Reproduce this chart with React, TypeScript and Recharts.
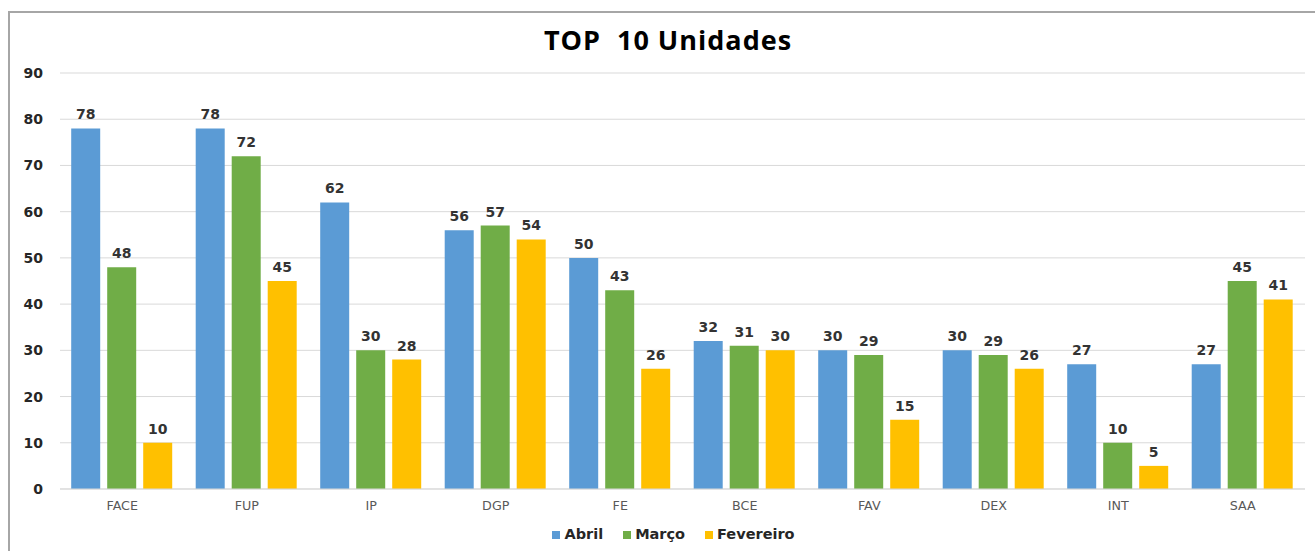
import { Bar, BarChart, CartesianGrid, LabelList, Legend, XAxis, YAxis } from "recharts";

const unidades = ["FACE", "FUP", "IP", "DGP", "FE", "BCE", "FAV", "DEX", "INT", "SAA"];
const abril = [78, 78, 62, 56, 50, 32, 30, 30, 27, 27];
const marco = [48, 72, 30, 57, 43, 31, 29, 29, 10, 45];
const fevereiro = [10, 45, 28, 54, 26, 30, 15, 26, 5, 41];
const yTicks = [0, 10, 20, 30, 40, 50, 60, 70, 80, 90];
const meses = ["Abril", "Março", "Fevereiro"];

const data = unidades.map((unidade, i) => ({
    unidade,
    abril: abril[i],
    marco: marco[i],
    fevereiro: fevereiro[i],
}));

const labelStyle = {
    fontFamily: "DejaVu Sans",
    fontWeight: 700,
    fontSize: 14,
    fill: "#333333",
};

export default function App() {
    return (
        <div style={{ position: "absolute", left: 0, top: 0, width: 1315, height: 551, background: "#fff", overflow: "hidden" }}>
            <div
                style={{
                    position: "absolute",
                    left: 8,
                    top: 11,
                    width: 1330,
                    height: 560,
                    border: "2px solid #a6a6a6",
                    boxSizing: "border-box",
                }}
            />
            <div
                style={{
                    position: "absolute",
                    left: 0,
                    width: 1336,
                    top: 26,
                    lineHeight: "27px",
                    textAlign: "center",
                    fontFamily: "Open Sans",
                    fontWeight: 700,
                    fontSize: 27,
                    letterSpacing: 1,
                    color: "#000",
                }}
            >
                TOP&nbsp;&nbsp;10 Unidades
            </div>
            <BarChart
                width={1315}
                height={551}
                data={data}
                margin={{ top: 73, right: 10, bottom: 0, left: 0 }}
                barCategoryGap="9%"
                barGap={7}
            >
                <CartesianGrid vertical={false} stroke="#d9d9d9" />
                <XAxis
                    dataKey="unidade"
                    height={32}
                    tickLine={false}
                    axisLine={{ stroke: "#d9d9d9" }}
                    tickMargin={6}
                    tick={{ fontFamily: "DejaVu Sans", fontSize: 12.7, fill: "#595959" }}
                />
                <YAxis
                    width={60}
                    domain={[0, 90]}
                    ticks={yTicks}
                    axisLine={false}
                    tickLine={false}
                    tickMargin={11}
                    tick={{ ...labelStyle, fill: "#262626" }}
                />
                <Legend
                    height={30}
                    iconType="square"
                    iconSize={8}
                    itemSorter={(item) => meses.indexOf(String(item.value))}
                    wrapperStyle={{ bottom: -4, left: 0, width: 1315, paddingLeft: 52, boxSizing: "border-box" }}
                    formatter={(value) => (
                        <span
                            style={{
                                fontFamily: "DejaVu Sans",
                                fontWeight: 700,
                                fontSize: 14.5,
                                color: "#262626",
                                marginRight: 10,
                            }}
                        >
                            {value}
                        </span>
                    )}
                />
                <Bar dataKey="abril" name="Abril" fill="#5b9bd5" isAnimationActive={false}>
                    <LabelList dataKey="abril" position="top" offset={9} style={labelStyle} />
                </Bar>
                <Bar dataKey="marco" name="Março" fill="#70ad47" isAnimationActive={false}>
                    <LabelList dataKey="marco" position="top" offset={9} style={labelStyle} />
                </Bar>
                <Bar dataKey="fevereiro" name="Fevereiro" fill="#ffc000" isAnimationActive={false}>
                    <LabelList dataKey="fevereiro" position="top" offset={9} style={labelStyle} />
                </Bar>
            </BarChart>
        </div>
    );
}
